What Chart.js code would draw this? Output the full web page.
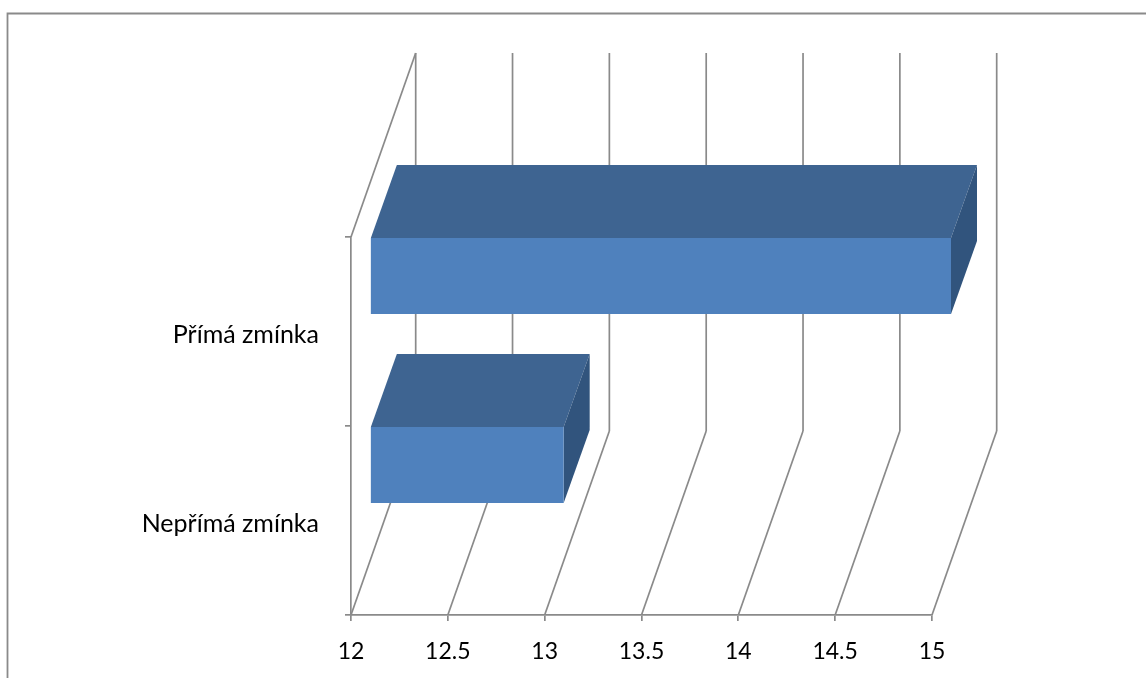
<!DOCTYPE html>
<html>
<head>
<meta charset="utf-8">
<script src="https://cdn.jsdelivr.net/npm/chart.js@4/dist/chart.umd.min.js"></script>
<style>
  body { margin: 0; background: #fff; }
  canvas { display: block; }
</style>
</head>
<body>
<canvas id="chart" width="1146" height="678"></canvas>
<script>
const categories = ['Přímá zmínka', 'Nepřímá zmínka'];
const values = [15, 13];
const axisMin = 12;
const axisMax = 15;
const axisStep = 0.5;

const gridColor = '#8a8a8a';
const frontColor = '#4f81bd';
const topColor = '#3e6491';
const sideColor = '#31547d';

// depth of the fake 3D box, and of each bar inside it
const wallDepth = { x: 64.7, y: -184 };
const barDepth = { x: 26, y: -73 };
const barShift = { x: 19, y: -55.5 };

function line(ctx, x1, y1, x2, y2) {
  ctx.beginPath();
  ctx.moveTo(x1, y1);
  ctx.lineTo(x2, y2);
  ctx.stroke();
}

function face(ctx, color, points) {
  ctx.fillStyle = color;
  ctx.beginPath();
  points.forEach((p, i) => (i ? ctx.lineTo(p[0], p[1]) : ctx.moveTo(p[0], p[1])));
  ctx.closePath();
  ctx.fill();
}

// Page frame, only the top and left edges are visible in the picture
const framePlugin = {
  id: 'frame',
  beforeDraw(chart) {
    const ctx = chart.ctx;
    ctx.save();
    ctx.fillStyle = '#fff';
    ctx.fillRect(0, 0, chart.width, chart.height);
    ctx.strokeStyle = gridColor;
    ctx.lineWidth = 1.8;
    ctx.beginPath();
    ctx.moveTo(7.5, chart.height);
    ctx.lineTo(7.5, 13.5);
    ctx.lineTo(chart.width, 13.5);
    ctx.stroke();
    ctx.restore();
  }
};

// Back wall gridlines, floor diagonals and the left wall edges
const wallsPlugin = {
  id: 'walls',
  beforeDatasetsDraw(chart) {
    const ctx = chart.ctx;
    const area = chart.chartArea;
    const xScale = chart.scales.x;
    ctx.save();
    ctx.strokeStyle = gridColor;
    ctx.lineWidth = 1.7;
    xScale.ticks.forEach(t => {
      const x = xScale.getPixelForValue(t.value);
      line(ctx, x, area.bottom, x + wallDepth.x, area.bottom + wallDepth.y);
      line(ctx, x + wallDepth.x, area.bottom + wallDepth.y, x + wallDepth.x, area.top + wallDepth.y);
    });
    line(ctx, area.left, area.top, area.left + wallDepth.x, area.top + wallDepth.y);
    ctx.restore();
  }
};

// Bars are drawn by the library, shifted into the box, with top and side faces added
const barBoxPlugin = {
  id: 'barBox',
  beforeDatasetDraw(chart, args) {
    const ctx = chart.ctx;
    ctx.save();
    ctx.translate(barShift.x, barShift.y);
    args.meta.data.forEach(bar => {
      const p = bar.getProps(['x', 'y', 'base', 'height'], true);
      const top = p.y - p.height / 2;
      const bottom = p.y + p.height / 2;
      face(ctx, topColor, [[p.base, top], [p.x, top], [p.x + barDepth.x, top + barDepth.y], [p.base + barDepth.x, top + barDepth.y]]);
      face(ctx, sideColor, [[p.x, top], [p.x + barDepth.x, top + barDepth.y], [p.x + barDepth.x, bottom + barDepth.y], [p.x, bottom]]);
    });
  },
  afterDatasetDraw(chart) {
    chart.ctx.restore();
  }
};

new Chart(document.getElementById('chart'), {
  type: 'bar',
  data: {
    labels: categories,
    datasets: [{
      data: values,
      base: axisMin,
      backgroundColor: frontColor,
      borderWidth: 0,
      categoryPercentage: 0.402,
      barPercentage: 1,
      clip: false
    }]
  },
  plugins: [framePlugin, wallsPlugin, barBoxPlugin],
  options: {
    indexAxis: 'y',
    responsive: false,
    animation: false,
    layout: { padding: { top: 237, right: 214, left: 0, bottom: 0 } },
    plugins: { legend: { display: false }, tooltip: { enabled: false } },
    scales: {
      x: {
        min: axisMin,
        max: axisMax,
        afterFit(scale) { scale.height = 63; },
        ticks: {
          stepSize: axisStep,
          padding: 17,
          maxRotation: 0,
          color: '#000',
          font: { family: 'Lato', size: 23 },
          callback: v => String(v)
        },
        grid: { drawOnChartArea: false, color: gridColor, lineWidth: 1.7, tickLength: 6 },
        border: { color: gridColor, width: 1.7 }
      },
      y: {
        afterFit(scale) { scale.width = 351; },
        ticks: {
          padding: 26,
          labelOffset: 3,
          color: '#000',
          font: { family: 'Lato', size: 25 }
        },
        grid: { drawOnChartArea: false, color: gridColor, lineWidth: 1.7, tickLength: 6 },
        border: { color: gridColor, width: 1.7 }
      }
    }
  }
});
</script>
</body>
</html>
